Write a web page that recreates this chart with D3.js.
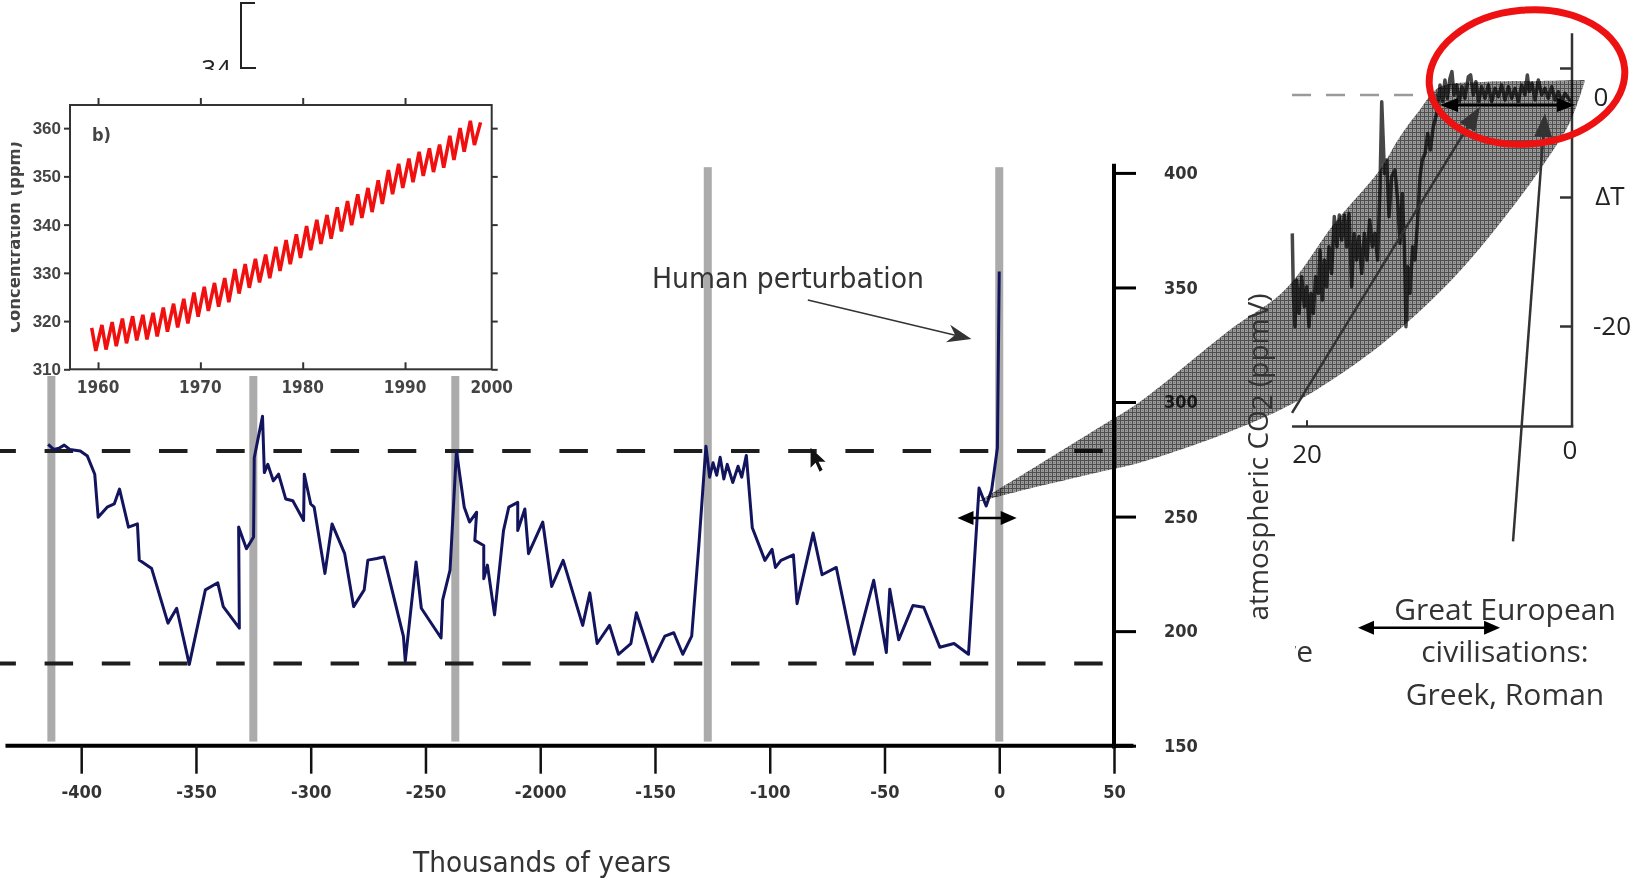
<!DOCTYPE html>
<html>
<head>
<meta charset="utf-8">
<script src="https://cdn.jsdelivr.net/npm/d3@7"></script>
<style>
body { margin: 0; background: #fff; }
.cond { font-family: "DejaVu Sans Condensed", "Liberation Sans Narrow", "DejaVu Sans", sans-serif; font-stretch: condensed; }
.myr { font-family: "Open Sans", "Noto Sans", sans-serif; }
</style>
</head>
<body>
<div id="chart"></div>
<script>
// Vostok CO2 record (thousands of years, ppmV)
const co2Kyr = [-414.4,-412,-409.7,-407.4,-405,-400.4,-397.3,-394.1,-392.6,-388.7,-385.6,-383.3,-379.4,-375.5,-374.7,-369.3,-362.2,-358.4,-352.9,-345.9,-340.5,-338.1,-331.1,-331.4,-328,-324.9,-324.6,-321,-320.2,-318.7,-316.3,-314,-310.9,-307.8,-303.1,-302.8,-300,-298.5,-293.8,-290.7,-285.2,-281.3,-276.7,-275.1,-271.2,-268.1,-259.6,-258.8,-254.1,-251.8,-243.2,-242.5,-239.3,-236.5,-233.1,-230.8,-227.7,-228.5,-224.6,-224.6,-223,-219.9,-216,-213.7,-209.8,-209.8,-206.7,-205.1,-198.9,-195,-190,-181.5,-178.4,-175.2,-169.8,-165.9,-160.5,-158.1,-151.1,-145.7,-141.8,-137.9,-134,-130.9,-127.8,-126.2,-124.7,-123.1,-121.6,-120,-118.5,-116.1,-113.8,-112.2,-110.2,-107.6,-102.1,-99,-97.5,-95.1,-89.7,-88.1,-81.1,-77.2,-71,-63.2,-54.7,-49.2,-47.7,-43.8,-37.6,-32.9,-25.9,-19.7,-13.4,-8.8,-5.7,-3.3,-0.8,0]
const co2Ppm = [281.5,279.3,279.8,281.2,279.3,278.6,276.4,268.5,249.7,254.1,255.5,262,245.4,246.8,231,227.3,203.5,210,185.5,218,221.1,210.7,201.3,245.4,236,241.1,275.7,293.8,269.2,272.8,265.6,268.5,257.7,256.9,248.3,268.5,255.5,254.1,225.2,246.8,233.8,210.7,218,231,231.7,232.4,197.7,186.9,230.2,210,197,213.6,226.6,278.6,254.1,247.6,251.9,239.6,237.4,222.9,228.8,207.1,243.9,254.1,256.2,243.9,253.3,233.8,247.6,219.5,230.9,202.5,216.7,194.6,202.5,189.9,194.6,208,186.7,197.8,199.3,189.9,197.8,237.2,280.7,267.2,273.5,268,275.9,266.4,272.8,264.9,272,267.2,276.7,245.1,230.9,235.7,227.8,230.9,233.3,212,242.8,224.6,227.8,189.9,222.2,190.7,218.3,196.2,211.2,210.4,193,194.6,189.9,262.5,254.6,261.7,280,357]

const interglacials = [-413, -325, -237, -127, 0]
const refLevels = [278.6, 185.9]
const mainXTicks = [-400, -350, -300, -250, -200, -150, -100, -50, 0, 50]
const mainXLabels = ['-400', '-350', '-300', '-250', '-2000', '-150', '-100', '-50', '0', '50']
const mainYTicks = [150, 200, 250, 300, 350, 400]

// Mauna Loa inset (b)
const keelingYears = d3.range(1959, 1998)
const keelingPeak = [318.6,319.2,319.8,320.5,321.0,321.3,321.7,322.8,323.6,324.6,325.9,327.1,327.9,328.9,330.8,331.8,332.9,333.8,335.4,336.8,338.0,339.7,341.0,342.0,343.6,344.9,346.3,347.6,349.2,351.3,352.6,353.7,355.1,355.8,356.6,358.4,360.0,361.5,361.2]
const keelingTrough = [313.8,314.1,314.8,315.4,316.0,316.2,316.8,317.8,318.7,319.5,320.9,322.1,323.0,323.9,325.7,326.9,328.0,328.9,330.4,331.8,333.1,334.7,336.0,337.1,338.6,339.9,341.4,342.6,344.3,346.3,347.6,348.8,350.1,350.9,351.8,353.4,355.1,356.5]
const insetYTicks = [310, 320, 330, 340, 350, 360]
const insetXTicks = [1960, 1970, 1980, 1990]
const insetXLabels = [1960, 1970, 1980, 1990, 2000]

// Holocene temperature panel (kyr BP, deltaT)
const tempKyr = [21.11,21.03,20.91,20.78,20.60,20.40,20.20,20.02,19.85,19.70,19.52,19.35,19.14,19.02,18.84,18.69,18.52,18.34,18.14,17.94,17.74,17.56,17.38,17.18,17.01,16.83,16.63,16.45,16.25,16.08,15.87,15.67,15.47,15.27,15.07,14.87,14.67,14.49,14.36,14.24,14.16,13.99,13.81,13.61,13.36,13.16,12.98,12.81,12.65,12.53,12.40,12.23,12.03,11.85,11.65,11.47,11.30,11.09,10.89,10.69,10.47,10.21,
	9.96,9.76,9.59,9.41,9.21,9.06,8.91,8.70,8.50,8.30,8.08,7.82,7.65,7.45,7.25,7.04,6.82,6.57,6.31,6.06,5.81,5.56,5.31,5.06,4.80,4.55,4.30,4.05,3.80,3.55,3.37,3.22,3.02,2.79,2.54,2.29,2.04,1.79,1.53,1.28,1.03,0.78,0.53,0.28,0.02]
const tempDT = [-12.82,-17.47,-20.05,-16.43,-19.02,-16.18,-18.50,-16.95,-20.05,-17.47,-19.02,-16.18,-17.47,-14.11,-17.98,-14.88,-16.95,-13.85,-15.92,-11.52,-13.85,-11.40,-13.33,-11.40,-13.85,-11.27,-16.95,-12.82,-14.88,-13.07,-15.92,-12.82,-14.88,-11.78,-13.85,-12.82,-14.88,-9.20,-2.61,-5.84,-8.17,-7.13,-11.52,-8.42,-7.91,-10.23,-13.59,-9.72,-13.85,-20.05,-15.40,-17.47,-13.85,-14.88,-11.78,-8.42,-7.13,-6.62,-5.07,-6.36,-4.55,-3.51,
	-1.32,-2.61,-0.93,-2.35,-0.80,-0.28,-2.09,-1.32,-2.61,-1.45,-2.35,-0.67,-0.54,-2.09,-1.06,-2.61,-1.45,-2.35,-1.32,-2.61,-1.58,-2.22,-1.32,-2.48,-1.45,-2.35,-1.58,-2.61,-1.32,-2.09,-0.54,-1.83,-1.19,-2.48,-0.93,-2.09,-1.58,-2.35,-1.45,-2.48,-1.83,-2.61,-1.96,-2.35,-2.61]
const tempYTicks = [0, -10, -20]

// zoom band, in main-chart units
const bandUpperKyr = [-9.3, 17.7, 43.8, 61.2, 100.4, 124.4, 146.2, 165.8, 174.5, 183.2, 191.9, 210.6, 231.1, 255.0]
const bandUpperPpm = [256.4, 273.0, 289.1, 300.0, 331.4, 348.9, 378.2, 401.3, 415.7, 427.5, 437.5, 439.7, 440.1, 440.6]
const bandLowerKyr = [-9.3, 17.7, 43.8, 61.2, 100.4, 130.9, 160.5, 177.5, 194.9, 209.3, 223.7, 235.5, 248.5, 255.0]
const bandLowerPpm = [256.4, 263.3, 269.5, 273.5, 287.0, 301.0, 320.5, 334.5, 351.0, 367.0, 385.1, 401.3, 421.8, 439.7]

const W = 1633, H = 880

const svg = d3.select('#chart').append('svg')
.attr('width', W)
.attr('height', H)

svg.append('rect').attr('width', W).attr('height', H).attr('fill', '#fff')

const defs = svg.append('defs')
const pat = defs.append('pattern').attr('id', 'hatch')
.attr('patternUnits', 'userSpaceOnUse').attr('width', 4).attr('height', 4)
pat.append('rect').attr('width', 4).attr('height', 4).attr('fill', '#9b9b9b')
pat.append('rect').attr('width', 1).attr('height', 4).attr('fill', '#4e4e4e')
pat.append('rect').attr('width', 4).attr('height', 1).attr('fill', '#4e4e4e')
pat.append('rect').attr('x', 2).attr('y', 2).attr('width', 1).attr('height', 1).attr('fill', '#707070')

defs.append('clipPath').attr('id', 'clipConc')
.append('rect').attr('x', 11).attr('y', 100).attr('width', 40).attr('height', 300)
defs.append('clipPath').attr('id', 'clipRe')
.append('rect').attr('x', 1295).attr('y', 620).attr('width', 40).attr('height', 60)

// arrow helper
function arrow(g, x1, y1, x2, y2, o) {
	const ang = Math.atan2(y2 - y1, x2 - x1)
	const L = o.len, Wd = o.wid / 2
	const head = (x, y, a) => {
		const c = Math.cos(a), s = Math.sin(a)
		const bx = x - c * L, by = y - s * L
		const nx = x - c * L * (o.notch || 1), ny = y - s * L * (o.notch || 1)
		return `M${x},${y}L${bx - s * Wd},${by + c * Wd}L${nx},${ny}L${bx + s * Wd},${by - c * Wd}Z`
	}
	const sx = o.both ? x1 + Math.cos(ang) * L * 0.6 : x1
	const sy = o.both ? y1 + Math.sin(ang) * L * 0.6 : y1
	g.append('line')
	.attr('x1', sx).attr('y1', sy)
	.attr('x2', x2 - Math.cos(ang) * L * 0.6).attr('y2', y2 - Math.sin(ang) * L * 0.6)
	.attr('stroke', o.color).attr('stroke-width', o.sw)
	g.append('path').attr('d', head(x2, y2, ang)).attr('fill', o.color)
	if (o.both) g.append('path').attr('d', head(x1, y1, ang + Math.PI)).attr('fill', o.color)
}

// ---------- main chart ----------
const xMain = d3.scaleLinear().domain([-400, 50]).range([81.2, 1114])
const yMain = d3.scaleLinear().domain([150, 400]).range([745.7, 172.9])

svg.append('g').selectAll('rect')
.data(interglacials)
.enter()
.append('rect')
.attr('x', d => xMain(d) - 4)
.attr('y', yMain(402.5))
.attr('width', 8)
.attr('height', yMain(151.8) - yMain(402.5))
.attr('fill', '#ababab')

svg.append('g').selectAll('line')
.data(refLevels)
.enter()
.append('line')
.attr('x1', 0).attr('x2', xMain(46))
.attr('y1', d => yMain(d)).attr('y2', d => yMain(d))
.attr('stroke', '#1e1e1e').attr('stroke-width', 4)
.attr('stroke-dasharray', '28.5 28.7').attr('stroke-dashoffset', 12.6)

const co2Line = d3.line()
.x((d, i) => xMain(co2Kyr[i]))
.y(d => yMain(d))

svg.append('path')
.attr('d', co2Line(co2Ppm))
.attr('fill', 'none')
.attr('stroke', '#13145e')
.attr('stroke-width', 3)
.attr('stroke-linejoin', 'round')

// axes
svg.append('line')
.attr('x1', xMain(-433)).attr('x2', xMain(58.5))
.attr('y1', yMain(150)).attr('y2', yMain(150))
.attr('stroke', '#000').attr('stroke-width', 4)
svg.append('line')
.attr('x1', xMain(50)).attr('x2', xMain(50))
.attr('y1', yMain(404)).attr('y2', yMain(148.8))
.attr('stroke', '#000').attr('stroke-width', 4)

const xAx = svg.append('g')
.attr('class', 'cond')
.attr('transform', `translate(0,${yMain(150)})`)
.call(d3.axisBottom(xMain).tickValues(mainXTicks).tickSize(28).tickPadding(12)
	.tickFormat((d, i) => mainXLabels[i]))
xAx.select('.domain').remove()
xAx.selectAll('line').attr('stroke', '#111').attr('stroke-width', 2.5)
xAx.selectAll('text').attr('font-size', 18).attr('font-weight', 'bold').attr('fill', '#333')
.attr('font-family', null)

const yAx = svg.append('g')
.attr('class', 'cond')
.attr('transform', `translate(${xMain(50)},0)`)
.call(d3.axisRight(yMain).tickValues(mainYTicks).tickSize(22).tickPadding(28))
yAx.select('.domain').remove()
yAx.selectAll('line').attr('stroke', '#000').attr('stroke-width', 3)
yAx.selectAll('text').attr('font-size', 18).attr('font-weight', 'bold').attr('fill', '#333')
.attr('font-family', null)

svg.append('text')
.attr('class', 'cond')
.attr('x', 542).attr('y', 872)
.attr('text-anchor', 'middle')
.attr('font-size', 29)
.attr('fill', '#333')
.attr('textLength', 258).attr('lengthAdjust', 'spacingAndGlyphs')
.text('Thousands of years')

// Human perturbation annotation
svg.append('text')
.attr('class', 'cond')
.attr('x', 788).attr('y', 288)
.attr('text-anchor', 'middle')
.attr('font-size', 28)
.attr('fill', '#333')
.attr('textLength', 272).attr('lengthAdjust', 'spacingAndGlyphs')
.text('Human perturbation')

arrow(svg.append('g'), xMain(-83.4), yMain(344.5), xMain(-12.1), yMain(327.5),
	{len: 24, wid: 18, notch: 0.7, color: '#333', sw: 1.5})

// mouse pointer
svg.append('path')
.attr('transform', `translate(${xMain(-82.2)},${yMain(280)})`)
.attr('d', 'M0,0L0,20L5,15L9,24L12,22L8,14L15,14Z')
.attr('fill', '#111')

arrow(svg.append('g'), xMain(-18.2), yMain(249.4), xMain(7.6), yMain(249.4),
	{len: 16, wid: 14, notch: 1, color: '#000', sw: 2.5, both: true})

// ---------- fragment above inset ----------
svg.append('text')
.attr('class', 'myr')
.attr('x', 231).attr('y', 78)
.attr('text-anchor', 'end')
.attr('font-size', 26)
.attr('fill', '#222')
.text('34')
svg.append('path')
.attr('d', 'M255,3H241V68H256')
.attr('fill', 'none').attr('stroke', '#222').attr('stroke-width', 2)

// ---------- inset (b) ----------
svg.append('rect').attr('x', 0).attr('y', 70).attr('width', 505).attr('height', 306).attr('fill', '#fff')

const xIn = d3.scaleLinear().domain([1957.26, 1998.47]).range([70, 491.7]).clamp(true)
const yIn = d3.scaleLinear().domain([310, 364.8]).range([369.3, 105])

const inset = svg.append('g').attr('class', 'cond')

const keelingPts = []
keelingYears.forEach((y, i) => {
	keelingPts.push([y + 0.38, keelingPeak[i]])
	if (keelingTrough[i] !== undefined) keelingPts.push([y + 0.78, keelingTrough[i]])
})

inset.append('path')
.attr('d', d3.line().x(d => xIn(d[0])).y(d => yIn(d[1]))(keelingPts))
.attr('fill', 'none')
.attr('stroke', '#f01010')
.attr('stroke-width', 3.5)
.attr('stroke-linejoin', 'miter')

inset.append('rect')
.attr('x', xIn.range()[0]).attr('y', yIn.range()[1])
.attr('width', xIn.range()[1] - xIn.range()[0])
.attr('height', yIn.range()[0] - yIn.range()[1])
.attr('fill', 'none').attr('stroke', '#333').attr('stroke-width', 2)

const tickStyle = sel => {
	sel.select('.domain').remove()
	sel.selectAll('line').attr('stroke', '#333').attr('stroke-width', 2)
	sel.selectAll('text').attr('font-size', 17).attr('font-weight', 'bold').attr('fill', '#444').attr('font-family', null)
}
inset.append('g').attr('transform', `translate(70,0)`)
.call(d3.axisLeft(yIn).tickValues(insetYTicks).tickSize(6).tickPadding(3)).call(tickStyle)
inset.append('g').attr('transform', `translate(491.7,0)`)
.call(d3.axisRight(yIn).tickValues(insetYTicks).tickSize(6).tickFormat('')).call(tickStyle)
inset.append('g').attr('transform', `translate(0,105)`)
.call(d3.axisTop(xIn).tickValues(insetXTicks).tickSize(7).tickFormat('')).call(tickStyle)
inset.append('g').attr('transform', `translate(0,369.3)`)
.call(d3.axisBottom(xIn).tickValues(insetXTicks).tickSize(-7).tickFormat('')).call(tickStyle)

inset.selectAll('.xl')
.data(insetXLabels)
.enter()
.append('text')
.attr('x', d => xIn(d))
.attr('y', 393)
.attr('text-anchor', 'middle')
.attr('font-size', 17).attr('font-weight', 'bold').attr('fill', '#444')
.text(d => d)

inset.append('text')
.attr('x', 92).attr('y', 141)
.attr('font-size', 18).attr('font-weight', 'bold').attr('fill', '#444')
.text('b)')

inset.append('g').attr('clip-path', 'url(#clipConc)')
.append('text')
.attr('transform', 'translate(20,237) rotate(-90)')
.attr('text-anchor', 'middle')
.attr('font-size', 18).attr('font-weight', 'bold').attr('fill', '#444')
.attr('textLength', 192).attr('lengthAdjust', 'spacingAndGlyphs')
.text('Concentration (ppm)')

// ---------- right temperature panel ----------
const xT = d3.scaleLinear().domain([20, 0]).range([1307, 1572])
const yT = d3.scaleLinear().domain([0, -20]).range([68, 326])

const rp = svg.append('g')

rp.append('line')
.attr('x1', xT(21.13)).attr('x2', xT(9.74))
.attr('y1', yT(-2.09)).attr('y2', yT(-2.09))
.attr('stroke', '#9a9a9a').attr('stroke-width', 2.5)
.attr('stroke-dasharray', '19 15')

rp.append('path')
.attr('d', d3.line().x((d, i) => xT(tempKyr[i])).y(d => yT(d))(tempDT))
.attr('fill', 'none')
.attr('stroke', '#474747')
.attr('stroke-width', 3.5)
.attr('stroke-linejoin', 'round')

rp.append('line')
.attr('x1', xT(0)).attr('x2', xT(0))
.attr('y1', yT(2.7)).attr('y2', yT(-27.8))
.attr('stroke', '#333').attr('stroke-width', 2.5)
rp.append('line')
.attr('x1', xT(21.13)).attr('x2', xT(-0.1))
.attr('y1', yT(-27.8)).attr('y2', yT(-27.8))
.attr('stroke', '#333').attr('stroke-width', 2.5)
rp.append('line')
.attr('x1', xT(20)).attr('x2', xT(20))
.attr('y1', yT(-27.8)).attr('y2', yT(-27.3))
.attr('stroke', '#333').attr('stroke-width', 2)

rp.append('g').attr('transform', `translate(${xT(0)},0)`)
.call(d3.axisLeft(yT).tickValues(tempYTicks).tickSize(12).tickFormat(''))
.call(g => g.select('.domain').remove())
.selectAll('line').attr('stroke', '#333').attr('stroke-width', 2.5)

// zoom band
const band = d3.line().curve(d3.curveCatmullRom)
.x(d => xMain(d[0])).y(d => yMain(d[1]))
const upPts = bandUpperKyr.map((k, i) => [k, bandUpperPpm[i]])
const loPts = bandLowerKyr.map((k, i) => [k, bandLowerPpm[i]]).reverse()
svg.append('path')
.attr('d', band(upPts) + 'L' + band(loPts).slice(1) + 'Z')
.attr('fill', 'url(#hatch)')
.style('mix-blend-mode', 'multiply')

// right panel annotations
arrow(svg.append('g'), xT(21.13), yT(-26.74), xT(6.94), yT(-3.0),
	{len: 24, wid: 18, notch: 1, color: '#333', sw: 2.5})
arrow(svg.append('g'), xT(4.45), yT(-36.7), xT(2.04), yT(-3.5),
	{len: 24, wid: 18, notch: 1, color: '#333', sw: 2.5})
arrow(svg.append('g'), xT(9.96), yT(-2.87), xT(-0.23), yT(-2.87),
	{len: 18, wid: 14, notch: 1, color: '#000', sw: 3, both: true})
arrow(svg.append('g'), xT(16.15), yT(-43.4), xT(5.43), yT(-43.4),
	{len: 16, wid: 14, notch: 1, color: '#000', sw: 2.5, both: true})

svg.append('ellipse')
.attr('transform', 'translate(1527,77) rotate(-5)')
.attr('rx', 98).attr('ry', 67)
.attr('fill', 'none')
.attr('stroke', '#ee1111')
.attr('stroke-width', 7)

const rt = svg.append('g').attr('class', 'myr').attr('fill', '#222').attr('font-size', 26)
rt.append('text').attr('x', 1601).attr('y', 106).attr('text-anchor', 'middle').text('0')
rt.append('text').attr('x', 1610).attr('y', 205).attr('text-anchor', 'middle').text('\u0394T')
rt.append('text').attr('x', 1612).attr('y', 335).attr('text-anchor', 'middle').text('-20')
rt.append('text').attr('x', 1307).attr('y', 463).attr('text-anchor', 'middle').text('20')
rt.append('text').attr('x', 1570).attr('y', 459).attr('text-anchor', 'middle').text('0')

const ge = svg.append('g').attr('class', 'myr').attr('fill', '#333').attr('font-size', 30).attr('text-anchor', 'middle')
ge.append('text').attr('x', 1505).attr('y', 620).text('Great European')
ge.append('text').attr('x', 1505).attr('y', 662).text('civilisations:')
ge.append('text').attr('x', 1505).attr('y', 705).text('Greek, Roman')

svg.append('g').attr('clip-path', 'url(#clipRe)')
.append('text')
.attr('class', 'myr')
.attr('x', 1313).attr('y', 662)
.attr('text-anchor', 'end')
.attr('font-size', 30).attr('fill', '#333')
.text('re')

const co2Lab = svg.append('text')
.attr('class', 'myr')
.attr('transform', 'translate(1268,457) rotate(-90)')
.attr('text-anchor', 'middle')
.attr('font-size', 28)
.attr('fill', '#333')
co2Lab.append('tspan').text('atmospheric CO')
co2Lab.append('tspan').attr('dy', 4).text('2')
co2Lab.append('tspan').attr('dy', -4).text(' (ppmV)')
</script>
</body>
</html>
